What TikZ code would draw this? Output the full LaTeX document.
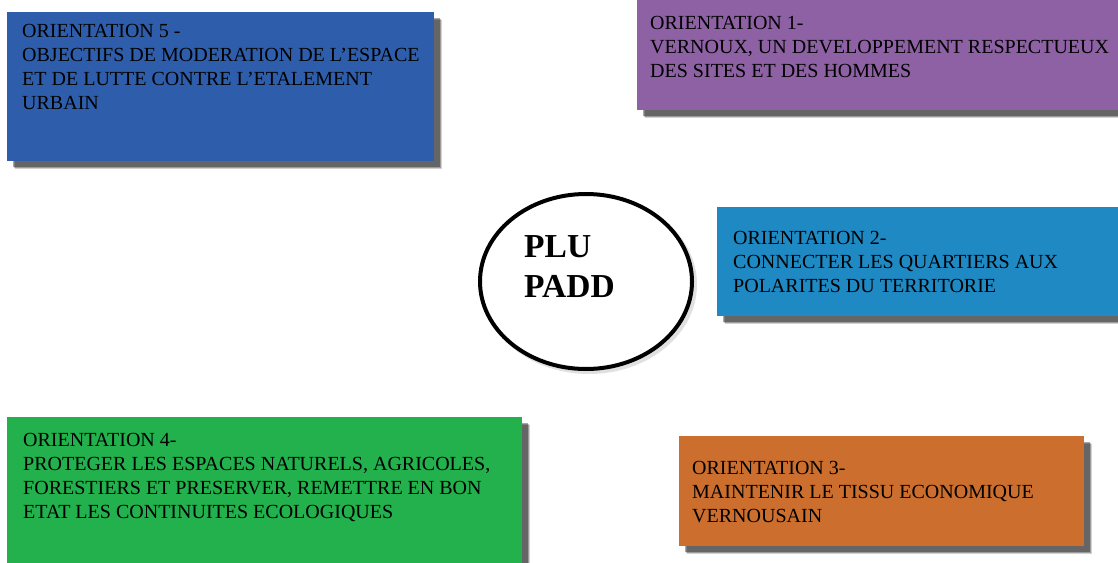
\documentclass[tikz,border=0pt]{standalone}
\usepackage{fontspec}
\setmainfont{Liberation Serif}
\usetikzlibrary{shadows,shapes.geometric}
\definecolor{cblue}{HTML}{2E5EAB}
\definecolor{cpurple}{HTML}{8E61A5}
\definecolor{ccyan}{HTML}{1F89C3}
\definecolor{cgreen}{HTML}{22B14C}
\definecolor{corange}{HTML}{CB6E2E}
\tikzset{
  orbox/.style={rectangle, inner sep=0pt, anchor=north west,
    drop shadow={shadow xshift=8pt, shadow yshift=-8pt, opacity=0.18, fill=black},
    drop shadow={shadow xshift=7pt, shadow yshift=-7pt, opacity=0.25, fill=black},
    drop shadow={shadow xshift=5.5pt, shadow yshift=-5.5pt, opacity=0.35, fill=black}},
  ortext/.style={inner sep=0pt, anchor=base west, align=left, text=black,
    font=\fontsize{20}{24}\selectfont},
  centre/.style={ellipse, draw=black, line width=4pt, fill=white, inner sep=0pt},
  centretext/.style={inner sep=0pt, anchor=base west, align=left,
    font=\fontsize{33.5}{40}\selectfont\bfseries}
}
\begin{document}
\begin{tikzpicture}[x=1pt,y=-1pt]
\useasboundingbox (0,0) rectangle (1118,562);
\fill[white] (0,0) rectangle (1118,562);
% boxes
\node[orbox, fill=cblue, minimum width=427pt, minimum height=149pt] (b5) at (7,12) {};
\node[orbox, fill=cpurple, minimum width=490pt, minimum height=110pt] (b1) at (637,0) {};
\node[orbox, fill=ccyan, minimum width=410pt, minimum height=109pt] (b2) at (717,207) {};
\node[orbox, fill=cgreen, minimum width=515pt, minimum height=150pt] (b4) at (7,417) {};
\node[orbox, fill=corange, minimum width=405pt, minimum height=110pt] (b3) at (679,436) {};
% texts (anchor = baseline of the last line)
\node[ortext] (t5) at (22,109) {ORIENTATION 5 -\\OBJECTIFS DE MODERATION DE L’ESPACE\\ET DE LUTTE CONTRE L’ETALEMENT\\URBAIN};
\node[ortext] (t1) at (650,77) {ORIENTATION 1-\\VERNOUX, UN DEVELOPPEMENT RESPECTUEUX\\DES SITES ET DES HOMMES};
\node[ortext] (t2) at (733,292) {ORIENTATION 2-\\CONNECTER LES QUARTIERS AUX\\POLARITES DU TERRITORIE};
\node[ortext] (t4) at (23,518) {ORIENTATION 4-\\PROTEGER LES ESPACES NATURELS, AGRICOLES,\\FORESTIERS ET PRESERVER, REMETTRE EN BON\\ETAT LES CONTINUITES ECOLOGIQUES};
\node[ortext] (t3) at (692,522) {ORIENTATION 3-\\MAINTENIR LE TISSU ECONOMIQUE\\VERNOUSAIN};
% centre
\fill[black, opacity=0.12] (589,284.5) ellipse [x radius=108pt, y radius=89.5pt];
\node[centre, minimum width=212pt, minimum height=175pt] (plu) at (586,281.5) {};
\node[centretext] (plutext) at (524,297) {PLU\\PADD};
\end{tikzpicture}
\end{document}
